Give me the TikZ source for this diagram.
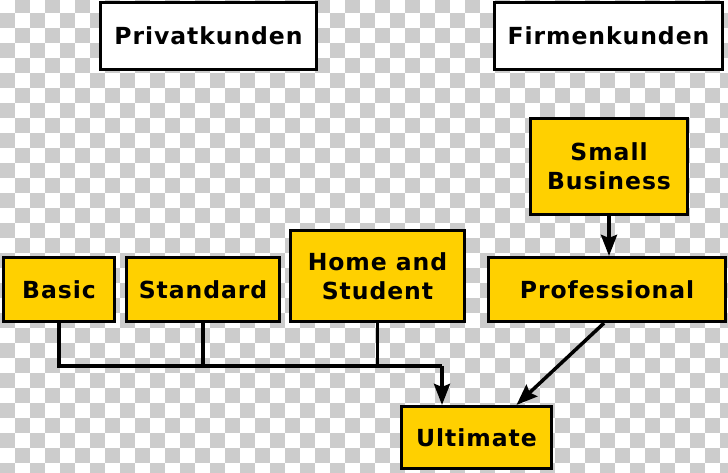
\documentclass[tikz,border=0pt]{standalone}
\usepackage{fontspec}
\setmainfont{DejaVu Sans}[LetterSpace=4]
\usetikzlibrary{arrows.meta}
\definecolor{edition}{RGB}{255,208,0}
\definecolor{checker}{RGB}{204,204,204}
\tikzset{
   box/.style={draw, line width=3.2pt, inner sep=0pt, align=center,
      font=\bfseries\fontsize{23.5}{29}\selectfont},
   group/.style={box, fill=white},
   edition/.style={box, fill=edition},
   link/.style={line width=3.5pt},
   arr/.style={link, -{Stealth[length=21pt, width=16pt, inset=3pt]}}
}

\begin{document}
\begin{tikzpicture}[x=1pt, y=-1pt]
\useasboundingbox (0,0) rectangle (728,472);
\begin{scope}
   \clip (0,0) rectangle (728,472);
   \foreach \i in {0,...,48}
      \foreach \j in {0,...,32}{
         \pgfmathtruncatemacro\k{mod(\i+\j,2)}
         \ifnum\k=1 \fill[checker] (15*\i,15*\j-2.3) rectangle ++(15,15); \fi
      }
\end{scope}

\node[group, minimum width=216pt, minimum height=67pt] (priv) at (208.5,36) {Privatkunden};
\node[group, minimum width=228pt, minimum height=67pt] (firm) at (608.5,36) {Firmenkunden};
\node[edition, minimum width=157pt, minimum height=96pt] (small) at (609,166.5) {Small\\Business};
\node[edition, minimum width=111pt, minimum height=64pt] (basic) at (59,289.5) {Basic};
\node[edition, minimum width=153pt, minimum height=64pt] (std) at (203,289.5) {Standard};
\node[edition, minimum width=174pt, minimum height=91pt] (home) at (377.5,276) {Home and\\Student};
\node[edition, minimum width=237pt, minimum height=64pt] (prof) at (607,289.5) {Professional};
\node[edition, minimum width=150pt, minimum height=62pt] (ult) at (476.5,437.5) {Ultimate};

\coordinate (bus) at (442,366);
\draw[link] (basic.south) |- (bus);
\draw[link] (std.south) -- (std.south |- bus);
\draw[link] (home.south) -- (home.south |- bus);
\draw[arr] (bus) -- (bus |- ult.north);
\draw[arr] (small.south) -- (small.south |- prof.north);
\draw[arr] ([xshift=-3pt]prof.south) -- ([xshift=40pt]ult.north);
\end{tikzpicture}
\end{document}
